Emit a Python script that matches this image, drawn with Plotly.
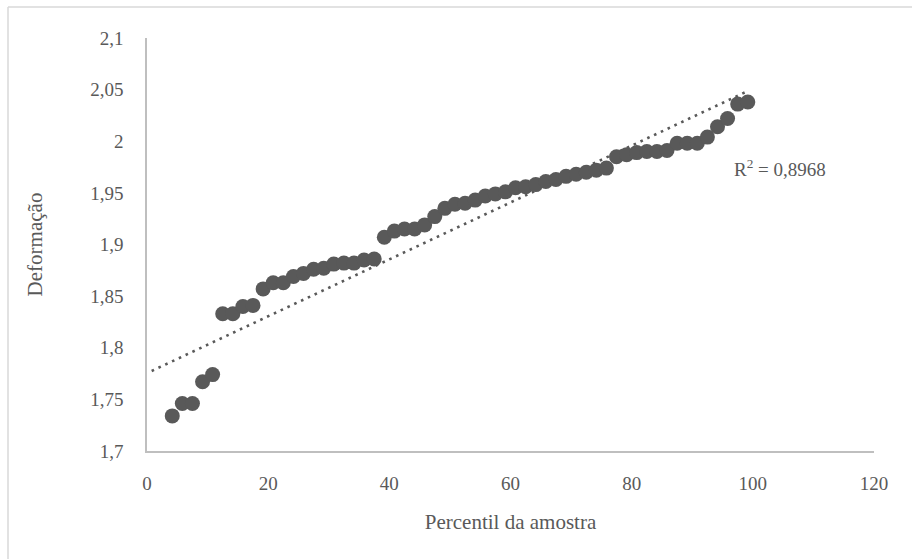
import plotly.graph_objects as go

percentil = [4.17, 5.83, 7.50, 9.17, 10.83, 12.50, 14.17, 15.83, 17.50, 19.17,
             20.83, 22.50, 24.17, 25.83, 27.50, 29.17, 30.83, 32.50, 34.17, 35.83,
             37.50, 39.17, 40.83, 42.50, 44.17, 45.83, 47.50, 49.17, 50.83, 52.50,
             54.17, 55.83, 57.50, 59.17, 60.83, 62.50, 64.17, 65.83, 67.50, 69.17,
             70.83, 72.50, 74.17, 75.83, 77.50, 79.17, 80.83, 82.50, 84.17, 85.83,
             87.50, 89.17, 90.83, 92.50, 94.17, 95.83, 97.50, 99.17]
deformacao = [1.734, 1.746, 1.746, 1.767, 1.774, 1.833, 1.833, 1.840, 1.841, 1.857,
              1.863, 1.863, 1.869, 1.872, 1.876, 1.877, 1.881, 1.882, 1.882, 1.885,
              1.886, 1.907, 1.913, 1.915, 1.915, 1.919, 1.927, 1.935, 1.939, 1.940,
              1.943, 1.947, 1.949, 1.951, 1.955, 1.956, 1.958, 1.961, 1.963, 1.966,
              1.968, 1.970, 1.972, 1.974, 1.985, 1.987, 1.989, 1.990, 1.990, 1.991,
              1.998, 1.998, 1.998, 2.004, 2.014, 2.022, 2.036, 2.038]
# linear trendline (ends)
tendencia_x = [0.77, 99.17]
tendencia_y = [1.7775, 2.0486]
r2_label = "R<sup>2</sup> = 0,8968"
x_ticks = [0, 20, 40, 60, 80, 100, 120]
y_ticks = [1.7, 1.75, 1.8, 1.85, 1.9, 1.95, 2.0, 2.05, 2.1]
y_ticktext = ["1,7", "1,75", "1,8", "1,85", "1,9", "1,95", "2", "2,05", "2,1"]

col = "#595959"
font = "Liberation Serif"

fig = go.Figure()
fig.add_trace(go.Scatter(x=tendencia_x, y=tendencia_y, mode="lines",
                         line=dict(color=col, width=2.6, dash="2.6px,4.9px"),
                         hoverinfo="skip"))
fig.add_trace(go.Scatter(x=percentil, y=deformacao, mode="markers",
                         marker=dict(color=col, size=15, line=dict(width=0))))

fig.add_annotation(x=96.6, y=1.974, xref="x", yref="y", text=r2_label,
                   showarrow=False, xanchor="left", yanchor="middle",
                   font=dict(family=font, size=19, color=col))

axis_common = dict(showgrid=False, zeroline=False, showline=True,
                   linecolor="#bfbfbf", linewidth=1.5, ticks="",
                   tickfont=dict(family=font, size=19, color=col))

fig.update_xaxes(range=[0, 120], tickvals=x_ticks, ticktext=[str(v) for v in x_ticks],
                 ticklabelstandoff=14,
                 title=dict(text="Percentil da amostra", standoff=22,
                            font=dict(family=font, size=21, color=col)),
                 **axis_common)
fig.update_yaxes(range=[1.7, 2.1], tickvals=y_ticks, ticktext=y_ticktext,
                 ticklabelstandoff=18,
                 title=dict(text="Deformação", standoff=42,
                            font=dict(family=font, size=21, color=col)),
                 **axis_common)

# outer chart border (top and left visible)
fig.add_shape(type="line", xref="paper", yref="paper",
              x0=-0.1912, x1=1.06, y0=1.075, y1=1.075,
              line=dict(color="#d9d9d9", width=1.5))
fig.add_shape(type="line", xref="paper", yref="paper",
              x0=-0.1912, x1=-0.1912, y0=1.075, y1=-0.27,
              line=dict(color="#d9d9d9", width=1.5))

fig.update_layout(width=912, height=559, showlegend=False,
                  plot_bgcolor="white", paper_bgcolor="white",
                  margin=dict(l=147, r=38, t=38, b=108))

fig.write_html("out.html")
